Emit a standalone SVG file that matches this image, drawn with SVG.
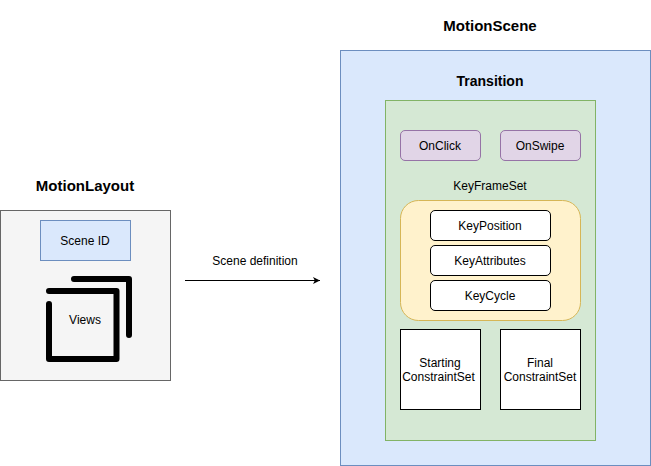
<svg xmlns="http://www.w3.org/2000/svg" width="651" height="466" viewBox="0 0 651 466">
<defs>
<style>
text{font-family:"Liberation Sans",Arial,sans-serif;font-size:12px;fill:#000;text-anchor:middle}
.t{font-size:14px;font-weight:bold}
.h{font-size:15px;font-weight:bold}
.blue{fill:#dae8fc;stroke:#6c8ebf}
.green{fill:#d5e8d4;stroke:#82b366}
.purple{fill:#e1d5e7;stroke:#9673a6}
.white{fill:#fff;stroke:#000}
.thick{fill:none;stroke:#000;stroke-width:6;stroke-linecap:round;stroke-linejoin:round}
</style>
<marker id="arrow" markerWidth="8" markerHeight="8" refX="7" refY="4" orient="auto" markerUnits="userSpaceOnUse"><path d="M0 .5L7 4L0 7.5L1.8 4Z" fill="#000"/></marker>
</defs>
<rect width="651" height="466" fill="#fff"/>
<g id="motionlayout-title"><text class="h" x="85" y="191">MotionLayout</text></g>
<g id="motionlayout"><rect x="0.5" y="210.500" width="170" height="170" fill="#f5f5f5" stroke="#666"/></g>
<g id="scene-id"><rect class="blue" x="40.500" y="220.500" width="90" height="40"/><text x="85" y="245">Scene ID</text></g>
<g id="views">
<path class="thick" d="M74 279H129V335"/>
<path class="thick" d="M49 291H116.500V359H49V304"/>
<text x="85" y="324">Views</text>
</g>
<g id="connectors"><path d="M185 280.500H320" fill="none" stroke="#000" marker-end="url(#arrow)"/></g>
<g id="scene-definition"><text x="255" y="265">Scene definition</text></g>
<g id="motionscene-title"><text class="h" x="490" y="31">MotionScene</text></g>
<g id="motionscene"><rect class="blue" x="340.500" y="50.500" width="310" height="415"/></g>
<g id="transition-title"><text class="t" x="490" y="86">Transition</text></g>
<g id="transition"><rect class="green" x="385.500" y="100.500" width="210" height="340"/></g>
<g id="onclick"><rect class="purple" x="400.500" y="130.500" width="80" height="30" rx="4.500"/><text x="440" y="150">OnClick</text></g>
<g id="onswipe"><rect class="purple" x="500.500" y="130.500" width="80" height="30" rx="4.500"/><text x="540" y="150">OnSwipe</text></g>
<g id="keyframeset-title"><text x="490" y="190">KeyFrameSet</text></g>
<g id="keyframeset"><rect x="400.500" y="200.500" width="180" height="120" rx="18" fill="#fff2cc" stroke="#d6b656"/></g>
<g id="keyposition"><rect class="white" x="430.500" y="210.500" width="120" height="30" rx="4.500"/><text x="490" y="230">KeyPosition</text></g>
<g id="keyattributes"><rect class="white" x="430.500" y="245.500" width="120" height="30" rx="4.500"/><text x="490" y="265">KeyAttributes</text></g>
<g id="keycycle"><rect class="white" x="430.500" y="280.500" width="120" height="30" rx="4.500"/><text x="490" y="300">KeyCycle</text></g>
<g id="starting"><rect class="white" x="400.500" y="329.500" width="80" height="80"/><text x="440" y="367">Starting</text><text x="438.500" y="381">ConstraintSet</text></g>
<g id="final"><rect class="white" x="500.500" y="329.500" width="80" height="80"/><text x="540" y="367">Final</text><text x="540" y="381">ConstraintSet</text></g>
</svg>
